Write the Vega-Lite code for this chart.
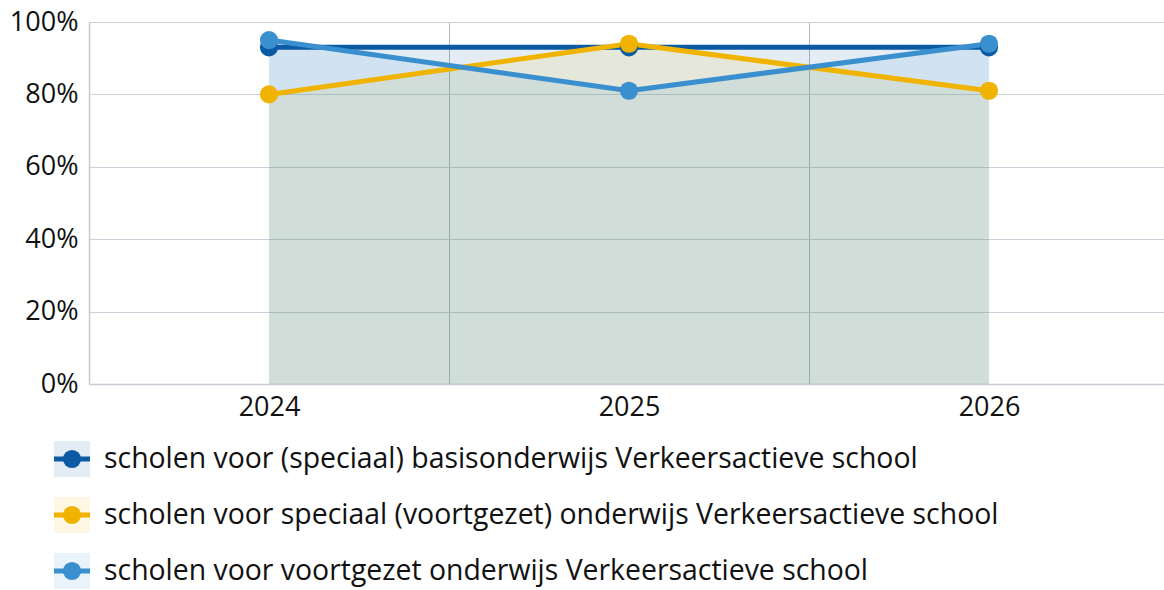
{
  "$schema": "https://vega.github.io/schema/vega-lite/v6.json",
  "padding": {"left": 9, "top": 8, "right": 0, "bottom": 0},
  "background": "white",
  "config": {
    "font": "Open Sans",
    "view": {"stroke": null},
    "concat": {"spacing": 21}
  },
  "datasets": {
    "main": [
      {"jaar": "2024", "serie": "scholen voor (speciaal) basisonderwijs Verkeersactieve school", "waarde": 0.93},
      {"jaar": "2025", "serie": "scholen voor (speciaal) basisonderwijs Verkeersactieve school", "waarde": 0.93},
      {"jaar": "2026", "serie": "scholen voor (speciaal) basisonderwijs Verkeersactieve school", "waarde": 0.93},
      {"jaar": "2024", "serie": "scholen voor speciaal (voortgezet) onderwijs Verkeersactieve school", "waarde": 0.80},
      {"jaar": "2025", "serie": "scholen voor speciaal (voortgezet) onderwijs Verkeersactieve school", "waarde": 0.94},
      {"jaar": "2026", "serie": "scholen voor speciaal (voortgezet) onderwijs Verkeersactieve school", "waarde": 0.81},
      {"jaar": "2024", "serie": "scholen voor voortgezet onderwijs Verkeersactieve school", "waarde": 0.95},
      {"jaar": "2025", "serie": "scholen voor voortgezet onderwijs Verkeersactieve school", "waarde": 0.81},
      {"jaar": "2026", "serie": "scholen voor voortgezet onderwijs Verkeersactieve school", "waarde": 0.94}
    ]
  },
  "vconcat": [
    {
      "width": 1080,
      "height": 362,
      "data": {"name": "main"},
      "encoding": {
        "x": {
          "field": "jaar", "type": "ordinal",
          "scale": {"type": "band", "paddingInner": 0, "paddingOuter": 0},
          "axis": {
            "title": null, "labelAngle": 0, "labelFontSize": 27, "labelColor": "#111111",
            "labelPadding": 10, "ticks": false, "tickBand": "extent",
            "grid": true, "gridColor": "#aebbc0", "gridWidth": 1,
            "domainColor": "#c5ccd4", "domainWidth": 1.5
          }
        },
        "y": {
          "field": "waarde", "type": "quantitative", "stack": null,
          "scale": {"domain": [0, 1], "nice": false},
          "axis": {
            "title": null, "format": ".0%", "values": [0, 0.2, 0.4, 0.6, 0.8, 1],
            "labelFontSize": 27, "labelColor": "#111111", "labelPadding": 11, "ticks": false,
            "grid": true, "gridColor": "#c9d2da", "gridWidth": 1,
            "domainColor": "#c5ccd4", "domainWidth": 1.5
          }
        },
        "color": {
          "field": "serie", "type": "nominal",
          "scale": {
            "domain": [
              "scholen voor (speciaal) basisonderwijs Verkeersactieve school",
              "scholen voor speciaal (voortgezet) onderwijs Verkeersactieve school",
              "scholen voor voortgezet onderwijs Verkeersactieve school"
            ],
            "range": ["#0a5aa4", "#f0b400", "#3a8fcf"]
          },
          "legend": null
        }
      },
      "layer": [
        {"mark": {"type": "area", "fillOpacity": 0.11}},
        {"mark": {"type": "line", "strokeWidth": 5}},
        {"mark": {"type": "point", "filled": true, "size": 330, "opacity": 1}}
      ]
    },
    {
      "width": 36,
      "height": 140,
      "data": {"name": "main"},
      "transform": [{"aggregate": [{"op": "count", "as": "n"}], "groupby": ["serie"]}],
      "encoding": {
        "y": {
          "field": "serie", "type": "nominal",
          "sort": [
            "scholen voor (speciaal) basisonderwijs Verkeersactieve school",
            "scholen voor speciaal (voortgezet) onderwijs Verkeersactieve school",
            "scholen voor voortgezet onderwijs Verkeersactieve school"
          ],
          "scale": {"type": "point", "padding": 0.25},
          "axis": null
        },
        "color": {
          "field": "serie", "type": "nominal",
          "scale": {
            "domain": [
              "scholen voor (speciaal) basisonderwijs Verkeersactieve school",
              "scholen voor speciaal (voortgezet) onderwijs Verkeersactieve school",
              "scholen voor voortgezet onderwijs Verkeersactieve school"
            ],
            "range": ["#0a5aa4", "#f0b400", "#3a8fcf"]
          },
          "legend": null
        }
      },
      "layer": [
        {"mark": {"type": "square", "size": 1296, "filled": true, "opacity": 0.11, "xOffset": -35}},
        {"mark": {"type": "tick", "orient": "horizontal", "size": 36, "thickness": 5, "opacity": 1, "xOffset": -35}},
        {"mark": {"type": "circle", "size": 330, "opacity": 1, "xOffset": -35}},
        {"mark": {"type": "text", "align": "left", "baseline": "middle", "dx": -3, "fontSize": 28.4, "color": "#111111"}, "encoding": {"text": {"field": "serie"}, "color": {"value": "#111111"}}}
      ]
    }
  ]
}
